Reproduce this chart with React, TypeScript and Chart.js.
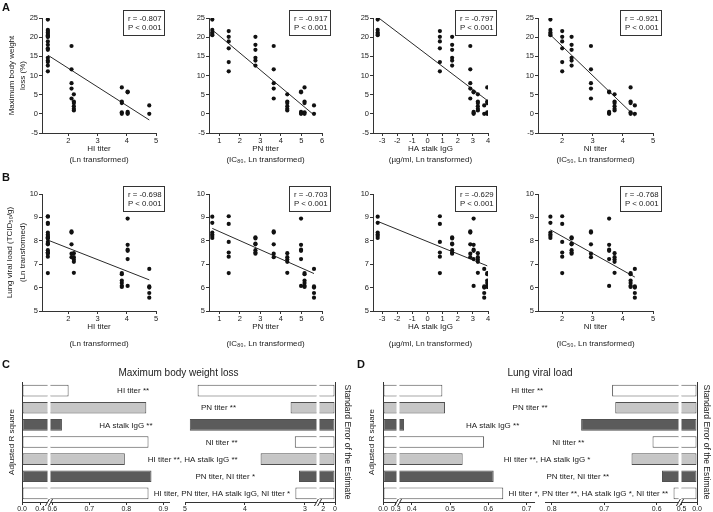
import React, { useEffect, useRef } from "react";
import { Chart, registerables } from "chart.js";

Chart.register(...registerables);

const FONT = "'Liberation Sans', Arial, Helvetica, sans-serif";
const INK = "#1a1a1a";
const AXIS = "#333333";

// ---------------- Panels A & B : eight vaccination groups (G1..G8) ----------------
const hiTiter = [1.3, 1.3, 1.3, 2.11, 2.19, 4.03, 3.83, 4.77];
const pnTiter = [0.66, 1.46, 2.76, 3.65, 4.31, 4.98, 5.15, 5.61];
const haStalkIgG = [-3.29, 0.82, 1.63, 2.83, 3.33, 3.05, 3.95, 3.75];
const niTiter = [1.61, 2.0, 2.31, 2.95, 3.73, 3.55, 4.26, 4.4];

const weightLoss = [
  [24.6, 21.9, 21.2, 20.8, 20.5],
  [21.6, 20.1, 18.9, 17.1, 13.5, 11.1],
  [20.1, 18.0, 16.7, 14.6, 13.9, 12.6],
  [17.7, 11.6, 8.0, 6.6, 4.0],
  [5.1, 3.2, 2.8, 2.0, 1.3, 0.9],
  [5.8, 5.6, 0.5, 0.2, 0.0],
  [6.9, 3.2, 2.8, 0.4, 0.0],
  [2.2, 0.0],
];
const viralLoad = [
  [9.03, 8.77, 8.35, 8.27, 8.2, 8.12],
  [9.05, 8.72, 7.95, 7.5, 7.32, 6.62],
  [8.15, 8.1, 7.88, 7.85, 7.6, 7.5, 7.45],
  [8.4, 8.35, 7.85, 7.45, 7.3],
  [7.47, 7.3, 7.2, 7.1, 6.63],
  [8.95, 7.83, 7.62, 7.57, 7.22, 6.07],
  [6.62, 6.57, 6.3, 6.2, 6.08, 6.03],
  [6.8, 6.05, 6.0, 5.77, 5.57],
];

// regression line: y at smallest x, y at largest x
const fitWeight = [[15.3, -1.6], [21.9, -0.3], [25.2, 3.5], [20.6, -0.6]];
const fitViral = [[8.03, 6.33], [8.53, 6.6], [8.83, 6.93], [8.47, 6.45]];
const rWeight = ["-0.807", "-0.917", "-0.797", "-0.921"];
const rViral = ["-0.698", "-0.703", "-0.629", "-0.768"];

const assays = [hiTiter, pnTiter, haStalkIgG, niTiter];
const xRanges = [[1.1, 5], [0.5, 6], [-3.6, 4], [1.2, 5]];
const xTickVals = [[2, 3, 4, 5], [1, 2, 3, 4, 5, 6], [-3, -2, -1, 0, 1, 2, 3, 4], [2, 3, 4, 5]];
const xTitles = [
  ["HI titer", "(Ln transformed)"],
  ["PN titer", "(IC₈₀, Ln transformed)"],
  ["HA stalk IgG", "(µg/ml, Ln transformed)"],
  ["NI titer", "(IC₅₀, Ln transformed)"],
];
const weightTicks = [-5, 0, 5, 10, 15, 20, 25];
const viralTicks = [5, 6, 7, 8, 9, 10];

// ---------------- Panels C & D ----------------
const combosWeight = [
  "HI titer **",
  "PN titer **",
  "HA stalk IgG **",
  "NI titer **",
  "HI titer **, HA stalk IgG **",
  "PN titer, NI titer *",
  "HI titer, PN titer, HA stalk IgG, NI titer *",
];
const adjR2Weight = [0.644, 0.854, 0.626, 0.86, 0.796, 0.868, 0.86];
const seeWeight = [4.79, 3.24, 4.92, 3.17, 3.74, 3.1, 3.16];

const combosViral = [
  "HI titer **",
  "PN titer **",
  "HA stalk IgG **",
  "NI titer **",
  "HI titer **, HA stalk IgG *",
  "PN titer, NI titer **",
  "HI titer *, PN titer **, HA stalk IgG *, NI titer **",
];
const adjR2Viral = [0.48, 0.487, 0.38, 0.589, 0.533, 0.614, 0.639];
const seeViral = [0.685, 0.679, 0.744, 0.608, 0.648, 0.59, 0.568];

const rowFills = ["#ffffff", "#c6c6c6", "#5b5b5b", "#ffffff", "#c6c6c6", "#5b5b5b", "#ffffff"];

// ---------------- layout ----------------
const COLS = [
  { l: 42, r: 156 },
  { l: 209, r: 322 },
  { l: 373, r: 488 },
  { l: 538, r: 653 },
];
const ROWS = [
  { t: 18, b: 133, bottom: 165, xLH: 11, yLH: 11, yPad: 6.2 },
  { t: 194, b: 311, bottom: 352, xLH: 17, yLH: 12.7, yPad: 3.6 },
];
const PAD_T = 10;
const PAD_R = 12;

type Rect = { left: number; top: number; width: number; height: number };

const scatterSpecs: any[] = [];
ROWS.forEach((row, ri) => {
  COLS.forEach((col, ci) => {
    const yW = ci === 0 ? col.l : 22;
    const left = col.l - yW;
    const top = row.t - PAD_T;
    const rect: Rect = { left, top, width: col.r + PAD_R - left, height: row.bottom - top };
    scatterSpecs.push({
      rect,
      xs: assays[ci],
      ys: ri === 0 ? weightLoss : viralLoad,
      fit: ri === 0 ? fitWeight[ci] : fitViral[ci],
      r: ri === 0 ? rWeight[ci] : rViral[ci],
      xMin: xRanges[ci][0],
      xMax: xRanges[ci][1],
      xTicks: xTickVals[ci],
      yMin: ri === 0 ? -5 : 5,
      yMax: ri === 0 ? 25 : 10,
      yTicks: ri === 0 ? weightTicks : viralTicks,
      xTitle: xTitles[ci],
      yTitle:
        ci === 0
          ? ri === 0
            ? ["Maximum body weight", "loss (%)"]
            : ["Lung viral load (TCID₅₀/g)", "(Ln transformed)"]
          : null,
      yW,
      xH: row.bottom - row.b,
      xLH: row.xLH,
      yLH: row.yLH,
      yPad: row.yPad,
    });
  });
});

const barSpecs: any[] = [
  {
    rect: { left: 0, top: 358, width: 360, height: 154 },
    title: "Maximum body weight loss",
    labels: combosWeight,
    left: adjR2Weight,
    right: seeWeight,
    yW: 22,
    rW: 25,
    padTop: 24,
    xH: 10,
    lPad: 6.9,
    rPad: 7.9,
    segs: [
      { side: "L", w: 27, min: 0, max: 0.6, ticks: [0, 0.4], dec: 1, brkR: true },
      { side: "L", w: 136, min: 0.591, max: 0.9586, ticks: [0.6, 0.7, 0.8, 0.9], dec: 1, brkL: true, lineTo: 0.918 },
      { side: "R", w: 133, min: 2.783, max: 5, reverse: true, ticks: [5, 4, 3], dec: 0, brkR: true },
      { side: "R", w: 17, min: 0, max: 2.9, reverse: true, ticks: [2, 0], dec: 0, brkL: true },
    ],
  },
  {
    rect: { left: 355, top: 358, width: 358, height: 154 },
    title: "Lung viral load",
    labels: combosViral,
    left: adjR2Viral,
    right: seeViral,
    yW: 28,
    rW: 16,
    padTop: 24,
    xH: 10,
    lPad: 11.9,
    rPad: 1.2,
    segs: [
      { side: "L", w: 15, min: 0, max: 0.355, ticks: [0, 0.3], dec: 1, brkR: true },
      { side: "L", w: 147, min: 0.3642, max: 0.748, ticks: [0.4, 0.5, 0.6, 0.7], dec: 1, brkL: true, lineTo: 0.722 },
      { side: "R", w: 135, min: 0.5557, max: 0.8128, reverse: true, ticks: [0.8, 0.7, 0.6], dec: 1, brkR: true },
      { side: "R", w: 17, min: 0, max: 0.55, reverse: true, ticks: [0.5, 0], dec: 1, brkL: true },
    ],
  },
];

// ---------------- chart builders ----------------
function rBoxPlugin(r: string) {
  return {
    id: "rbox",
    afterDraw(chart: any) {
      const { ctx, chartArea: a } = chart;
      const w = 41;
      const h = 25;
      const x = Math.round(a.right + 8 - w) + 0.5;
      const y = Math.round(a.top - 8) + 0.5;
      ctx.save();
      ctx.fillStyle = "#fff";
      ctx.fillRect(x, y, w, h);
      ctx.strokeStyle = "#333";
      ctx.lineWidth = 1;
      ctx.strokeRect(x, y, w, h);
      ctx.fillStyle = INK;
      ctx.font = `7.8px ${FONT}`;
      ctx.textAlign = "left";
      ctx.textBaseline = "middle";
      ctx.fillText(`r = ${r}`, x + 4.5, y + h / 2 - 4.3);
      ctx.fillText("P < 0.001", x + 4.5, y + h / 2 + 4.5);
      ctx.restore();
    },
  };
}

function makeScatter(canvas: HTMLCanvasElement, s: any) {
  const points: { x: number; y: number }[] = [];
  s.xs.forEach((x: number, g: number) => s.ys[g].forEach((y: number) => points.push({ x, y })));
  const xLo = Math.min(...s.xs);
  const xHi = Math.max(...s.xs);
  const tickFont = { family: FONT, size: 7.5 };
  return new Chart(canvas, {
    type: "scatter",
    data: {
      datasets: [
        {
          data: points,
          pointRadius: 2.1,
          pointHoverRadius: 2.1,
          pointBackgroundColor: "#111",
          pointBorderWidth: 0,
        } as any,
        {
          type: "line",
          data: [
            { x: xLo, y: s.fit[0] },
            { x: xHi, y: s.fit[1] },
          ],
          borderColor: "#2a2a2a",
          borderWidth: 1,
          pointRadius: 0,
          fill: false,
          tension: 0,
        } as any,
      ],
    },
    options: {
      responsive: false,
      animation: false,
      events: [],
      layout: { padding: { top: PAD_T, right: PAD_R, left: 0, bottom: 0 } },
      plugins: { legend: { display: false }, tooltip: { enabled: false } },
      scales: {
        x: {
          type: "linear",
          min: s.xMin,
          max: s.xMax,
          afterBuildTicks: (sc: any) => {
            sc.ticks = s.xTicks.map((v: number) => ({ value: v }));
          },
          afterFit: (sc: any) => {
            sc.height = s.xH;
          },
          grid: { drawOnChartArea: false, tickLength: 3, color: AXIS },
          border: { color: AXIS, width: 1 },
          ticks: { font: tickFont, color: INK, padding: 0, maxRotation: 0, autoSkip: false },
          title: {
            display: true,
            text: s.xTitle,
            font: { family: FONT, size: 8, lineHeight: s.xLH / 8 },
            color: INK,
            padding: 0,
          },
        },
        y: {
          type: "linear",
          min: s.yMin,
          max: s.yMax,
          afterBuildTicks: (sc: any) => {
            sc.ticks = s.yTicks.map((v: number) => ({ value: v }));
          },
          afterFit: (sc: any) => {
            sc.width = s.yW;
          },
          grid: { drawOnChartArea: false, tickLength: 3, color: AXIS },
          border: { color: AXIS, width: 1 },
          ticks: { font: tickFont, color: INK, padding: 1 },
          title: s.yTitle
            ? {
                display: true,
                text: s.yTitle,
                font: { family: FONT, size: 8, lineHeight: s.yLH / 8 },
                color: INK,
                padding: { top: s.yPad, bottom: 0 },
              }
            : { display: false },
        },
      },
    } as any,
    plugins: [rBoxPlugin(s.r)],
  });
}

function makeBarPanel(canvas: HTMLCanvasElement, o: any) {
  const ids = o.segs.map((_: any, i: number) => "x" + i);
  const scales: any = {
    y: {
      type: "category",
      position: "left",
      offset: true,
      grid: { display: false },
      ticks: { display: false },
      border: { display: true, color: AXIS, width: 1 },
      title: {
        display: true,
        text: "Adjusted R square",
        font: { family: FONT, size: 8, lineHeight: 1.2 },
        color: INK,
        padding: { top: o.lPad, bottom: 0 },
      },
      afterFit: (sc: any) => {
        sc.width = o.yW;
      },
    },
    y2: {
      type: "category",
      position: "right",
      offset: true,
      grid: { display: false },
      ticks: { display: false },
      border: { display: true, color: AXIS, width: 1 },
      title: {
        display: true,
        text: "Standard Error of the Estimate",
        font: { family: FONT, size: 8.5, lineHeight: 1.2 },
        color: INK,
        padding: { top: o.rPad, bottom: 0 },
      },
      afterFit: (sc: any) => {
        sc.width = o.rW;
      },
    },
  };
  o.segs.forEach((s: any, i: number) => {
    scales[ids[i]] = {
      type: "linear",
      position: "bottom",
      stack: "bars",
      stackWeight: s.w,
      weight: i,
      min: s.min,
      max: s.max,
      reverse: !!s.reverse,
      beginAtZero: false,
      afterBuildTicks: (sc: any) => {
        sc.ticks = s.ticks.map((v: number) => ({ value: v }));
      },
      afterFit: (sc: any) => {
        sc.height = o.xH;
      },
      grid: { display: true, drawOnChartArea: false, drawTicks: true, tickLength: 3, color: AXIS },
      border: { display: false },
      ticks: {
        font: { family: FONT, size: 7 },
        color: INK,
        padding: 0,
        maxRotation: 0,
        autoSkip: false,
        callback: (v: any) => Number(v).toFixed(s.dec),
      },
    };
  });

  const datasets = o.segs.map((s: any, i: number) => ({
    data: s.side === "L" ? o.left : o.right,
    xAxisID: ids[i],
    yAxisID: "y",
    backgroundColor: rowFills,
    borderColor: "#505050",
    borderWidth: 1,
    borderSkipped: false,
    grouped: false,
    categoryPercentage: 1,
    barPercentage: 0.68,
  }));

  const deco = {
    id: "deco",
    beforeDatasetDraw(chart: any, args: any) {
      const id = args.meta.xAxisID;
      const s = o.segs[ids.indexOf(id)];
      const sc = chart.scales[id];
      const a = chart.chartArea;
      const l = sc.left + (s.brkL ? 1.5 : -2);
      const r = sc.right - (s.brkR ? 1.5 : -2);
      chart.ctx.save();
      chart.ctx.beginPath();
      chart.ctx.rect(l, a.top - 2, r - l, a.bottom - a.top + 4);
      chart.ctx.clip();
    },
    afterDatasetDraw(chart: any) {
      chart.ctx.restore();
    },
    afterDatasetsDraw(chart: any) {
      const { ctx } = chart;
      const yS = chart.scales.y;
      const lS = chart.scales[ids[1]];
      const rS = chart.scales[ids[2]];
      ctx.save();
      ctx.fillStyle = INK;
      ctx.font = `8px ${FONT}`;
      ctx.textAlign = "center";
      ctx.textBaseline = "middle";
      chart.data.labels.forEach((lab: string, i: number) => {
        const lx = lS.getPixelForValue(o.left[i]);
        const rx = rS.getPixelForValue(o.right[i]);
        ctx.fillText(lab, (lx + rx) / 2, yS.getPixelForValue(i) + 0.5);
      });
      ctx.restore();
    },
    afterDraw(chart: any) {
      const { ctx, chartArea: a } = chart;
      const y = Math.round(a.bottom) + 0.5;
      ctx.save();
      ctx.strokeStyle = AXIS;
      ctx.lineWidth = 1;
      o.segs.forEach((s: any, i: number) => {
        const sc = chart.scales[ids[i]];
        let x0 = sc.left + (s.brkL ? 1.5 : 0);
        let x1 = sc.right - (s.brkR ? 1.5 : 0);
        if (s.lineTo !== undefined) x1 = sc.getPixelForValue(s.lineTo);
        if (s.lineFrom !== undefined) x0 = sc.getPixelForValue(s.lineFrom);
        ctx.beginPath();
        ctx.moveTo(x0, y);
        ctx.lineTo(x1, y);
        ctx.stroke();
        if (s.brkR) {
          const bx = sc.right;
          [-1.6, 1.6].forEach((d) => {
            ctx.beginPath();
            ctx.moveTo(bx + d - 2, y + 3.5);
            ctx.lineTo(bx + d + 2, y - 3.5);
            ctx.stroke();
          });
        }
      });
      ctx.fillStyle = INK;
      ctx.font = `10px ${FONT}`;
      ctx.textAlign = "center";
      ctx.textBaseline = "middle";
      ctx.fillText(o.title, (a.left + a.right) / 2, a.top - 9);
      ctx.restore();
    },
  };

  return new Chart(canvas, {
    type: "bar",
    data: { labels: o.labels, datasets },
    options: {
      indexAxis: "y",
      responsive: false,
      animation: false,
      events: [],
      layout: { padding: { top: o.padTop, left: 0, right: 0, bottom: 0 } },
      plugins: { legend: { display: false }, tooltip: { enabled: false } },
      scales,
    } as any,
    plugins: [deco],
  });
}

const allRects: Rect[] = [...scatterSpecs.map((s) => s.rect), ...barSpecs.map((b) => b.rect)];

const letterStyle: React.CSSProperties = {
  position: "absolute",
  fontFamily: FONT,
  fontWeight: "bold",
  fontSize: 11,
  lineHeight: "11px",
  color: "#111",
};

export default function App() {
  const refs = useRef<Array<HTMLCanvasElement | null>>([]);

  useEffect(() => {
    Chart.defaults.font.family = FONT;
    const charts: Chart[] = [];
    scatterSpecs.forEach((s, i) => {
      const c = refs.current[i];
      if (c) charts.push(makeScatter(c, s));
    });
    barSpecs.forEach((b, j) => {
      const c = refs.current[scatterSpecs.length + j];
      if (c) charts.push(makeBarPanel(c, b));
    });
    return () => charts.forEach((ch) => ch.destroy());
  }, []);

  return (
    <div
      style={{
        position: "absolute",
        left: 0,
        top: 0,
        width: 713,
        height: 512,
        background: "#fff",
        overflow: "hidden",
      }}
    >
      {allRects.map((r, i) => (
        <canvas
          key={i}
          ref={(el) => {
            refs.current[i] = el;
          }}
          width={r.width}
          height={r.height}
          style={{ position: "absolute", left: r.left, top: r.top, width: r.width, height: r.height }}
        />
      ))}
      <div style={{ ...letterStyle, left: 2, top: 2 }}>A</div>
      <div style={{ ...letterStyle, left: 2, top: 172 }}>B</div>
      <div style={{ ...letterStyle, left: 2, top: 359 }}>C</div>
      <div style={{ ...letterStyle, left: 357, top: 359 }}>D</div>
    </div>
  );
}
